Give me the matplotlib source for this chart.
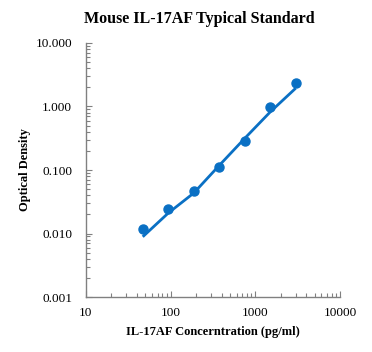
import numpy as np
import matplotlib
matplotlib.use("Agg")
import matplotlib.pyplot as plt
from matplotlib.ticker import LogLocator, FixedLocator, FixedFormatter, NullFormatter

plt.rcParams['font.family'] = ['Liberation Serif', 'DejaVu Serif']

# standard concentrations (pg/ml) and measured OD
conc = [46.875, 93.75, 187.5, 375, 750, 1500, 3000]
od = [0.0117, 0.0240, 0.0465, 0.110, 0.285, 0.97, 2.32]

# fitted standard curve
fit_od = [0.0089, 0.0210, 0.0434, 0.118, 0.315, 0.82, 1.94]

x_ticks = [10, 100, 1000, 10000]
x_labels = ['10', '100', '1000', '10000']
y_ticks = [0.001, 0.01, 0.1, 1, 10]
y_labels = ['0.001', '0.010', '0.100', '1.000', '10.000']

blue = '#0a70c4'
grey = '#808080'

fig = plt.figure(figsize=(3.72, 3.52), dpi=100)
ax = fig.add_axes([0.231, 0.156, 0.683, 0.722])

ax.plot(conc, fit_od, color=blue, lw=2.0, solid_capstyle='butt', zorder=2)
ax.plot(conc, od, 'o', color=blue, markersize=6.5, zorder=3)

ax.set_xscale('log')
ax.set_yscale('log')
ax.set_xlim(10, 10000)
ax.set_ylim(0.001, 10)

ax.xaxis.set_major_locator(FixedLocator(x_ticks))
ax.xaxis.set_major_formatter(FixedFormatter(x_labels))
ax.yaxis.set_major_locator(FixedLocator(y_ticks))
ax.yaxis.set_major_formatter(FixedFormatter(y_labels))
ax.xaxis.set_minor_locator(LogLocator(base=10, subs=np.arange(2, 10)))
ax.yaxis.set_minor_locator(LogLocator(base=10, subs=np.arange(2, 10)))
ax.xaxis.set_minor_formatter(NullFormatter())
ax.yaxis.set_minor_formatter(NullFormatter())

for s in ['top', 'right']:
    ax.spines[s].set_visible(False)
for s in ['left', 'bottom']:
    ax.spines[s].set_color(grey)
    ax.spines[s].set_linewidth(1.0)

ax.tick_params(which='major', direction='in', length=4, width=0.8, color=grey,
               labelsize=9.5)
ax.tick_params(axis='y', which='major', pad=10)
ax.tick_params(axis='x', which='major', pad=7)
ax.tick_params(which='minor', direction='in', length=3, width=0.8, color=grey)

ax.set_xlabel('IL-17AF Concerntration (pg/ml)', fontsize=9, fontweight='bold', labelpad=5)
ax.set_ylabel('Optical Density', fontsize=9, fontweight='bold', labelpad=3)
fig.suptitle('Mouse IL-17AF Typical Standard', fontsize=11.5, fontweight='bold',
             x=0.535, y=0.968)

fig.savefig('out.png', dpi=100)
